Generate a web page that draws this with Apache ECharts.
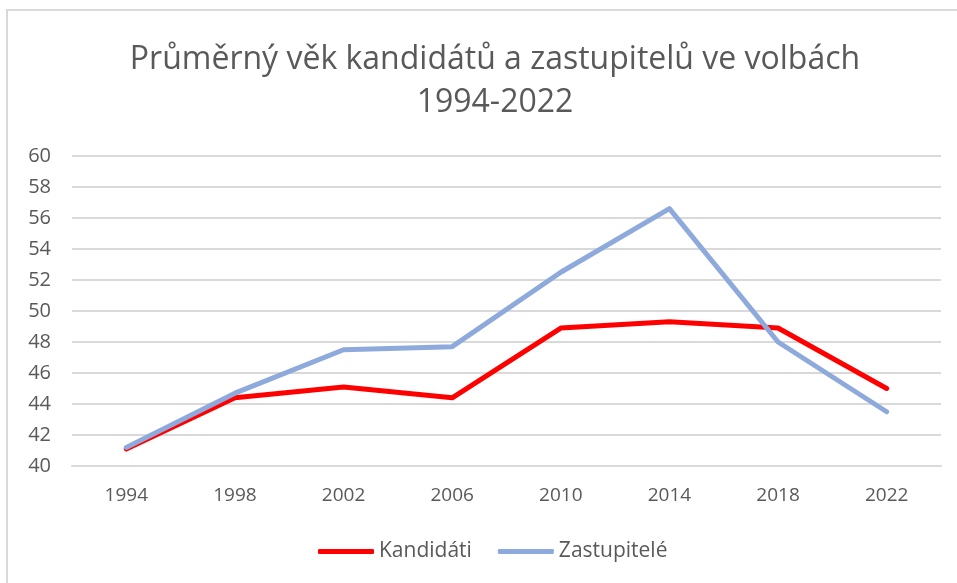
<!DOCTYPE html>
<html>
<head>
<meta charset="utf-8">
<script src="https://cdn.jsdelivr.net/npm/echarts@6/dist/echarts.min.js"></script>
<style>
  html, body { margin: 0; padding: 0; background: #fff; }
  #main { width: 957px; height: 583px; }
</style>
</head>
<body>
<div id="main"></div>
<script>
var roky = ['1994', '1998', '2002', '2006', '2010', '2014', '2018', '2022'];
var kandidati = [41.1, 44.4, 45.1, 44.4, 48.9, 49.3, 48.9, 45.0];
var zastupitele = [41.2, 44.7, 47.5, 47.7, 52.5, 56.6, 48.0, 43.5];
var osaY = { min: 40, max: 60, krok: 2 };

var textColor = '#595959';
var fontName = '"Open Sans", "Liberation Sans", sans-serif';

var myChart = echarts.init(document.getElementById('main'));
var option = {
    backgroundColor: '#fff',
    animation: false,
    title: {
        text: 'Průměrný věk kandidátů a zastupitelů ve volbách\n1994-2022',
        left: 490,
        top: 33,
        textAlign: 'center',
        textStyle: {
            color: textColor,
            fontFamily: fontName,
            fontWeight: 'normal',
            fontSize: 32,
            lineHeight: 43
        }
    },
    // ramecek grafu
    graphic: [{
        type: 'rect',
        shape: { x: 7, y: 10, width: 1000, height: 700 },
        style: { fill: 'none', stroke: '#d9d9d9', lineWidth: 2 },
        silent: true
    }],
    legend: {
        left: 313,
        top: 536,
        icon: 'roundRect',
        itemWidth: 56,
        itemHeight: 5,
        itemGap: 26,
        textStyle: {
            color: textColor,
            fontFamily: fontName,
            fontSize: 21
        },
        data: ['Kandidáti', 'Zastupitelé']
    },
    grid: {
        left: 72,
        right: 16,
        top: 156,
        bottom: 117
    },
    xAxis: {
        type: 'category',
        data: roky,
        boundaryGap: true,
        axisLine: { show: true, lineStyle: { color: '#d9d9d9', width: 2 } },
        axisTick: { show: false },
        axisLabel: {
            color: textColor,
            fontFamily: fontName,
            fontSize: 19,
            margin: 20
        }
    },
    yAxis: {
        type: 'value',
        min: osaY.min,
        max: osaY.max,
        interval: osaY.krok,
        axisLine: { show: false },
        axisTick: { show: false },
        splitLine: { show: true, lineStyle: { color: '#d9d9d9', width: 2 } },
        axisLabel: {
            color: textColor,
            fontFamily: fontName,
            fontSize: 20,
            margin: 21
        }
    },
    series: [{
        name: 'Kandidáti',
        type: 'line',
        data: kandidati,
        symbol: 'none',
        smooth: false,
        lineStyle: { color: '#ff0000', width: 5, cap: 'round', join: 'round' },
        itemStyle: { color: '#ff0000' }
    }, {
        name: 'Zastupitelé',
        type: 'line',
        data: zastupitele,
        symbol: 'none',
        smooth: false,
        lineStyle: { color: '#8eaadc', width: 5, cap: 'round', join: 'round' },
        itemStyle: { color: '#8eaadc' }
    }]
};
myChart.setOption(option);
</script>
</body>
</html>
